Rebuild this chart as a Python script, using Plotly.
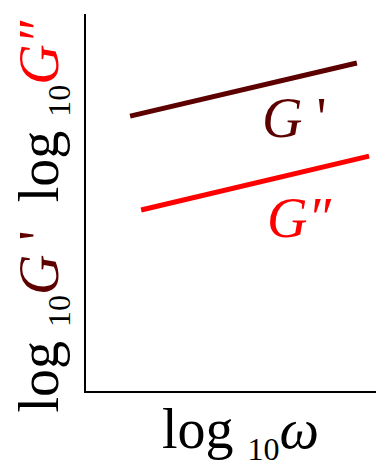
import plotly.graph_objects as go

# data (normalized log-log coordinates)
gp_x = [0.148, 0.909]
gp_y = [0.729, 0.870]
gpp_x = [0.185, 0.950]
gpp_y = [0.480, 0.623]

DARK = "#5c0000"
RED = "#ff0000"
FONT = "Liberation Serif, Times New Roman, serif"
SUB = "<sub><span style='font-size:32px'>10</span></sub>"

fig = go.Figure()
fig.add_trace(go.Scatter(x=gp_x, y=gp_y, mode="lines", line=dict(color=DARK, width=5), showlegend=False))
fig.add_trace(go.Scatter(x=gpp_x, y=gpp_y, mode="lines", line=dict(color=RED, width=5), showlegend=False))

fig.add_annotation(x=0.698, y=0.725, xref="x", yref="y", text="<i>G</i> '", showarrow=False,
                   font=dict(family=FONT, size=56, color=DARK))
fig.add_annotation(x=0.715, y=0.46, xref="x", yref="y", text="<i>G\u2033</i>", showarrow=False,
                   font=dict(family=FONT, size=56, color=RED))

fig.add_annotation(x=0.52, y=-0.207, xref="paper", yref="paper",
                   text="log " + SUB + "<i>\u03c9</i>", showarrow=False,
                   font=dict(family=FONT, size=56, color="black"))

ylab = ("<span style='color:black'>log " + SUB + "</span><span style='color:%s'><i>G</i> '</span>"
        "<span style='color:black'>  log " + SUB + "</span><span style='color:%s'><i>G\u2033</i></span>") % (DARK, RED)
fig.add_annotation(x=-0.268, y=0.462, xref="paper", yref="paper", text=ylab, textangle=-90,
                   showarrow=False, font=dict(family=FONT, size=56, color="black"))

fig.update_xaxes(range=[0, 1], showgrid=False, zeroline=False, showticklabels=False,
                 showline=True, linecolor="black", linewidth=2, ticks="")
fig.update_yaxes(range=[0, 1], showgrid=False, zeroline=False, showticklabels=False,
                 showline=True, linecolor="black", linewidth=2, ticks="")

fig.update_layout(width=384, height=465, margin=dict(l=78, r=8, t=6, b=82),
                  plot_bgcolor="white", paper_bgcolor="white")
fig.write_html("out.html")
